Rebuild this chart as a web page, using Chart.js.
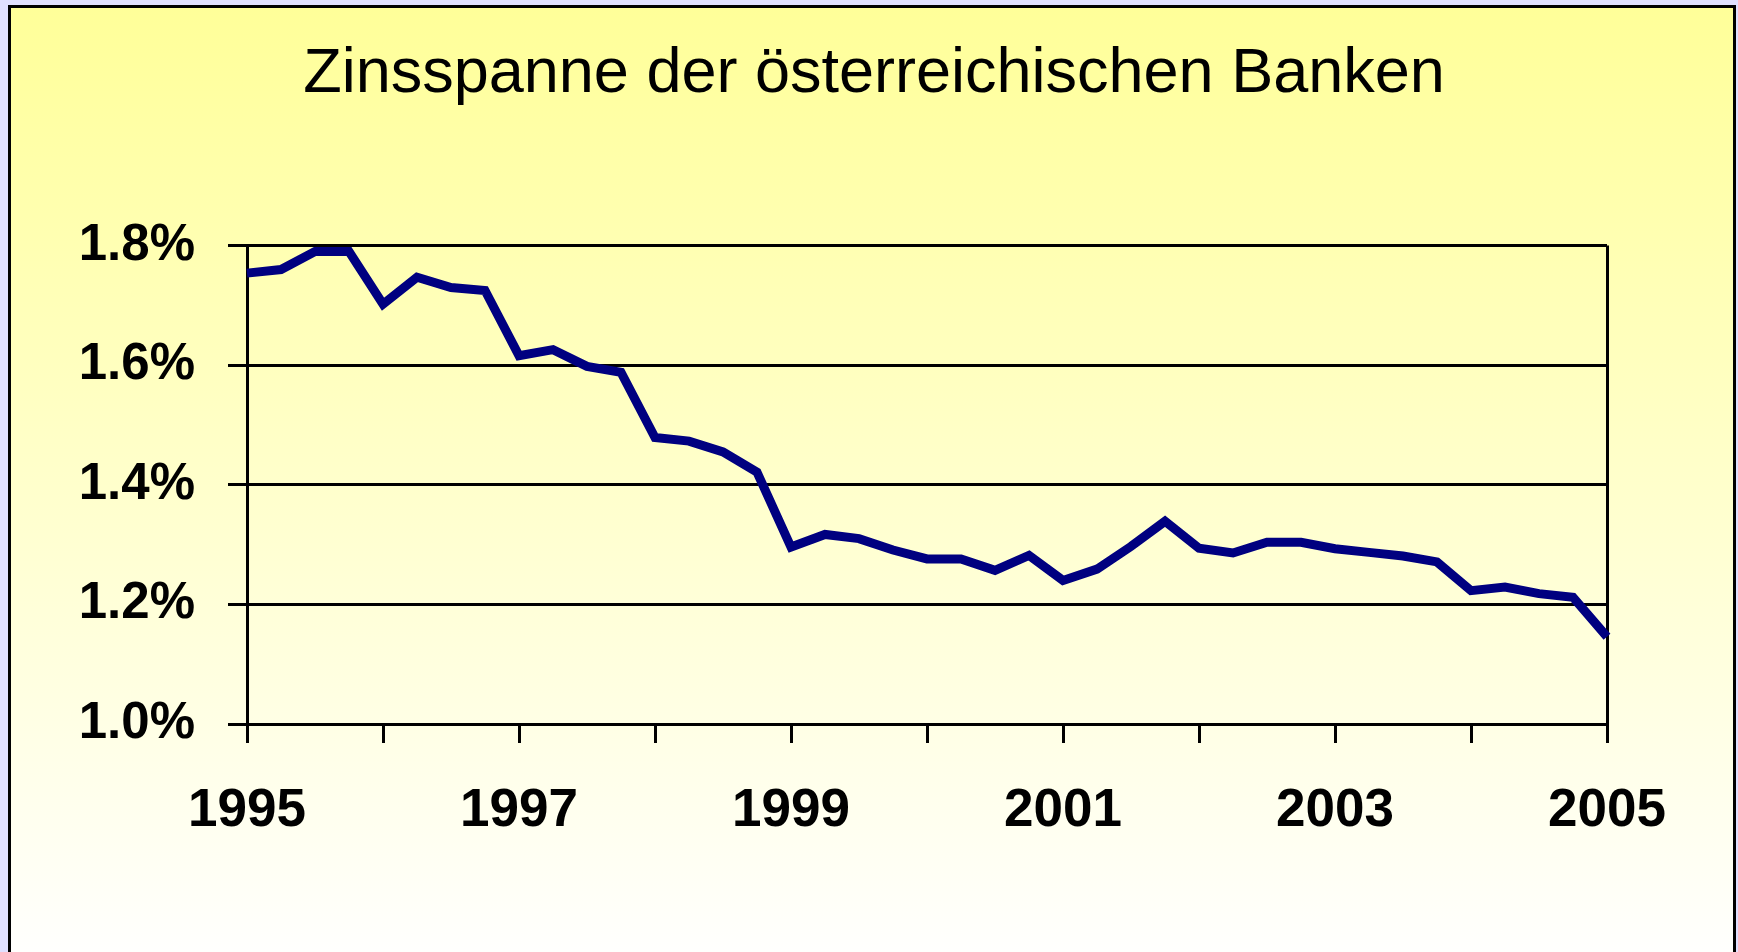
<!DOCTYPE html>
<html>
<head>
<meta charset="utf-8">
<title>Zinsspanne der österreichischen Banken</title>
<script src="https://cdn.jsdelivr.net/npm/chart.js@4.4.1/dist/chart.umd.min.js"></script>
<style>
  html, body { margin: 0; padding: 0; background: #e0e0ff; overflow: hidden; }
  #frame {
    position: absolute; left: 8px; top: 5px;
    width: 1722px; height: 1000px;
    border: 3px solid #000;
    background: linear-gradient(to bottom, #ffff99 0px, #ffffff 960px);
  }
  #chart { position: absolute; left: 0; top: 0; }
</style>
</head>
<body>
<div id="frame"></div>
<canvas id="chart" width="1738" height="952"></canvas>
<script>
// quarterly values, 1995 Q1 .. 2005 Q1
const quarters = [
  '1995 Q1', '1995 Q2', '1995 Q3', '1995 Q4',
  '1996 Q1', '1996 Q2', '1996 Q3', '1996 Q4',
  '1997 Q1', '1997 Q2', '1997 Q3', '1997 Q4',
  '1998 Q1', '1998 Q2', '1998 Q3', '1998 Q4',
  '1999 Q1', '1999 Q2', '1999 Q3', '1999 Q4',
  '2000 Q1', '2000 Q2', '2000 Q3', '2000 Q4',
  '2001 Q1', '2001 Q2', '2001 Q3', '2001 Q4',
  '2002 Q1', '2002 Q2', '2002 Q3', '2002 Q4',
  '2003 Q1', '2003 Q2', '2003 Q3', '2003 Q4',
  '2004 Q1', '2004 Q2', '2004 Q3', '2004 Q4',
  '2005 Q1'
];

const zinsspanne = [
  1.754, 1.760, 1.790, 1.790,
  1.702, 1.747, 1.730, 1.725,
  1.616, 1.626, 1.598, 1.588,
  1.479, 1.473, 1.455, 1.421,
  1.296, 1.317, 1.310, 1.291,
  1.276, 1.276, 1.257, 1.282,
  1.240, 1.259, 1.297, 1.339,
  1.294, 1.286, 1.304, 1.304,
  1.293, 1.287, 1.281, 1.271,
  1.223, 1.229, 1.218, 1.212,
  1.146
];

const yearLabels = ['1995', '1997', '1999', '2001', '2003', '2005'];
const yMin = 1.0;
const yMax = 1.8;
const yStep = 0.2;

const FONT = '"Liberation Sans", Arial, sans-serif';
const CLEAR = 'rgba(0,0,0,0)';

new Chart(document.getElementById('chart'), {
  type: 'line',
  data: {
    labels: quarters,
    datasets: [{
      label: 'Zinsspanne',
      data: zinsspanne,
      borderColor: '#000080',
      borderWidth: 9,
      pointRadius: 0,
      tension: 0,
      fill: false
    }]
  },
  options: {
    responsive: false,
    devicePixelRatio: 1,
    animation: false,
    layout: {
      padding: { top: 37, left: 10, right: 0, bottom: 110 }
    },
    plugins: {
      legend: { display: false },
      tooltip: { enabled: false },
      title: {
        display: true,
        text: 'Zinsspanne der österreichischen Banken',
        color: '#000',
        font: { family: FONT, size: 63, weight: 'normal' },
        padding: { top: 0, bottom: 133 }
      }
    },
    scales: {
      x: {
        offset: false,
        afterFit: (scale) => { scale.height = 118; },
        grid: {
          // right edge of the plot is drawn as the last grid line
          color: (ctx) => ctx.index === quarters.length - 1 ? '#000' : CLEAR,
          lineWidth: 3,
          tickLength: 19,
          tickColor: (ctx) => ctx.index % 4 === 0 ? '#000' : CLEAR,
          tickWidth: 3
        },
        border: { color: '#000', width: 3 },
        ticks: {
          autoSkip: false,
          maxRotation: 0,
          minRotation: 0,
          padding: 37,
          color: '#000',
          font: { family: FONT, size: 53, weight: 'bold' },
          callback: (val, i) => i % 8 === 0 ? yearLabels[i / 8] : ''
        }
      },
      y: {
        min: yMin,
        max: yMax,
        afterFit: (scale) => { scale.width = 237; },
        grid: {
          color: '#000',
          lineWidth: 3,
          tickLength: 19,
          tickWidth: 3
        },
        border: { color: '#000', width: 3 },
        ticks: {
          stepSize: yStep,
          padding: 33,
          color: '#000',
          font: { family: FONT, size: 51, weight: 'bold' },
          callback: (v) => v.toFixed(1) + '%'
        }
      },
      // empty right axis, only reserves the space right of the plot
      spacer: {
        position: 'right',
        afterFit: (scale) => { scale.width = 131; },
        grid: { display: false },
        border: { display: false },
        ticks: { display: false }
      }
    }
  }
});
</script>
</body>
</html>
